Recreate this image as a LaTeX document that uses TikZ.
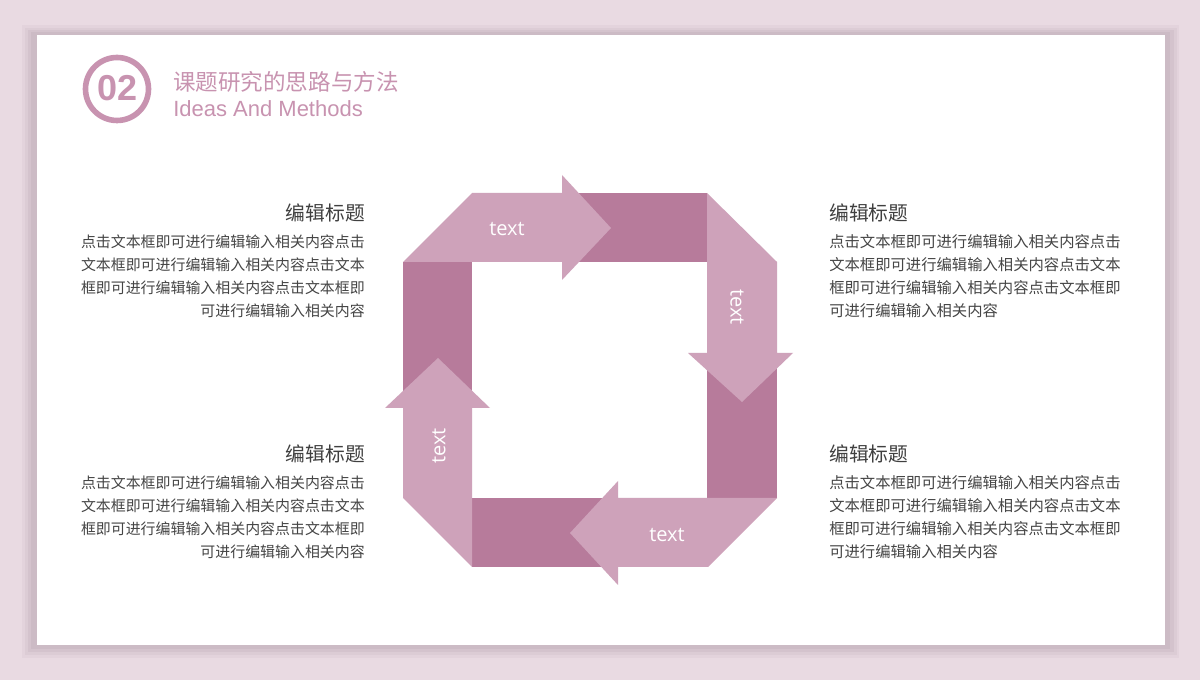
\documentclass[tikz,border=0pt]{standalone}
\usepackage{fontspec}
\setmainfont{Liberation Sans}
\newfontfamily\cjk{Noto Sans CJK SC}
\newfontfamily\opensans{Open Sans}
\definecolor{bgpink}{HTML}{E9DAE2}
\definecolor{shadowA}{HTML}{E3D3DC}
\definecolor{shadowB}{HTML}{DCCCD5}
\definecolor{shadowC}{HTML}{D4C3CD}
\definecolor{shadowD}{HTML}{CCBBC5}
\definecolor{lightband}{HTML}{CEA2BA}
\definecolor{darkband}{HTML}{B77B9B}
\definecolor{accent}{HTML}{C893B0}
\definecolor{headgray}{HTML}{404040}
\definecolor{bodygray}{HTML}{454545}
\tikzset{
  lightarrow/.style={fill=lightband, draw=none},
  darkseg/.style={fill=darkband, draw=none},
  bandlabel/.style={text=white, font=\opensans\fontsize{15}{15}\selectfont, inner sep=0pt},
  blocktitle/.style={text=headgray, font=\cjk\fontsize{14.8}{16}\selectfont, inner sep=0pt},
  blockbody/.style={text=bodygray, font=\cjk\fontsize{11.2}{13}\selectfont, inner sep=0pt},
  blockbodyr/.style={text=bodygray, font=\cjk\fontsize{11.5}{13}\selectfont, inner sep=0pt},
}
\begin{document}
\begin{tikzpicture}[x=0.75pt,y=-0.75pt]
\useasboundingbox (0,0) rectangle (1200,680);
% background and card
\fill[bgpink] (0,0) rectangle (1200,680);
\fill[shadowA] (22,25) rectangle (1179,658);
\fill[shadowB] (25,28) rectangle (1177,655);
\fill[shadowC] (28,30) rectangle (1174,652);
\fill[shadowD] (31,32) rectangle (1170,649);
\fill[white] (37,35) rectangle (1165,645);

% header
\draw[accent, line width=4.2pt] (117,89) circle (31.5);
\node[text=accent, font=\bfseries\fontsize{27}{27}\selectfont, inner sep=0pt] (num) at (118,88) {02};
\node[text=accent, font=\cjk\fontsize{16.9}{18}\selectfont, inner sep=0pt, anchor=west] (htitle) at (173,82) {课题研究的思路与方法};
\node[text=accent, font=\fontsize{16.5}{18}\selectfont, inner sep=0pt, anchor=base west] (hsub) at (173,117) {Ideas And Methods};

% dark segments
\fill[darkseg] (560,193) rectangle (707,262);
\fill[darkseg] (707,340) rectangle (777,498);
\fill[darkseg] (472,498) rectangle (640,567);
\fill[darkseg] (403,262) rectangle (472,420);

% light arrows
\fill[lightarrow] (403,262) -- (472,193) -- (562,193) -- (562,175) -- (611,228) -- (562,280) -- (562,262) -- cycle;
\fill[lightarrow] (707,193) -- (777,262) -- (777,353) -- (793,353) -- (742,402) -- (688,353) -- (707,353) -- cycle;
\fill[lightarrow] (777,498) -- (708,567) -- (618,567) -- (618,585) -- (570,533) -- (618,481) -- (618,498) -- cycle;
\fill[lightarrow] (472,567) -- (403,498) -- (403,408) -- (385,408) -- (438,358) -- (490,408) -- (472,408) -- cycle;

% labels
\node[bandlabel] (ttop) at (507,229) {text};
\node[bandlabel, rotate=-90] (tright) at (737,307) {text};
\node[bandlabel] (tbottom) at (667,535) {text};
\node[bandlabel, rotate=90] (tleft) at (439,446) {text};

% left upper block
\node[blocktitle, anchor=east] (lt1) at (365,213) {编辑标题};
\node[blockbody, anchor=east] (lb11) at (365,242) {点击文本框即可进行编辑输入相关内容点击};
\node[blockbody, anchor=east] (lb12) at (365,265) {文本框即可进行编辑输入相关内容点击文本};
\node[blockbody, anchor=east] (lb13) at (365,288) {框即可进行编辑输入相关内容点击文本框即};
\node[blockbody, anchor=east] (lb14) at (365,311) {可进行编辑输入相关内容};

% left lower block
\node[blocktitle, anchor=east] (lt2) at (365,454) {编辑标题};
\node[blockbody, anchor=east] (lb21) at (365,483) {点击文本框即可进行编辑输入相关内容点击};
\node[blockbody, anchor=east] (lb22) at (365,506) {文本框即可进行编辑输入相关内容点击文本};
\node[blockbody, anchor=east] (lb23) at (365,529) {框即可进行编辑输入相关内容点击文本框即};
\node[blockbody, anchor=east] (lb24) at (365,552) {可进行编辑输入相关内容};

% right upper block
\node[blocktitle, anchor=west] (rt1) at (829,213) {编辑标题};
\node[blockbodyr, anchor=west] (rb11) at (829,242) {点击文本框即可进行编辑输入相关内容点击};
\node[blockbodyr, anchor=west] (rb12) at (829,265) {文本框即可进行编辑输入相关内容点击文本};
\node[blockbodyr, anchor=west] (rb13) at (829,288) {框即可进行编辑输入相关内容点击文本框即};
\node[blockbodyr, anchor=west] (rb14) at (829,311) {可进行编辑输入相关内容};

% right lower block
\node[blocktitle, anchor=west] (rt2) at (829,454) {编辑标题};
\node[blockbodyr, anchor=west] (rb21) at (829,483) {点击文本框即可进行编辑输入相关内容点击};
\node[blockbodyr, anchor=west] (rb22) at (829,506) {文本框即可进行编辑输入相关内容点击文本};
\node[blockbodyr, anchor=west] (rb23) at (829,529) {框即可进行编辑输入相关内容点击文本框即};
\node[blockbodyr, anchor=west] (rb24) at (829,552) {可进行编辑输入相关内容};
\end{tikzpicture}
\end{document}
